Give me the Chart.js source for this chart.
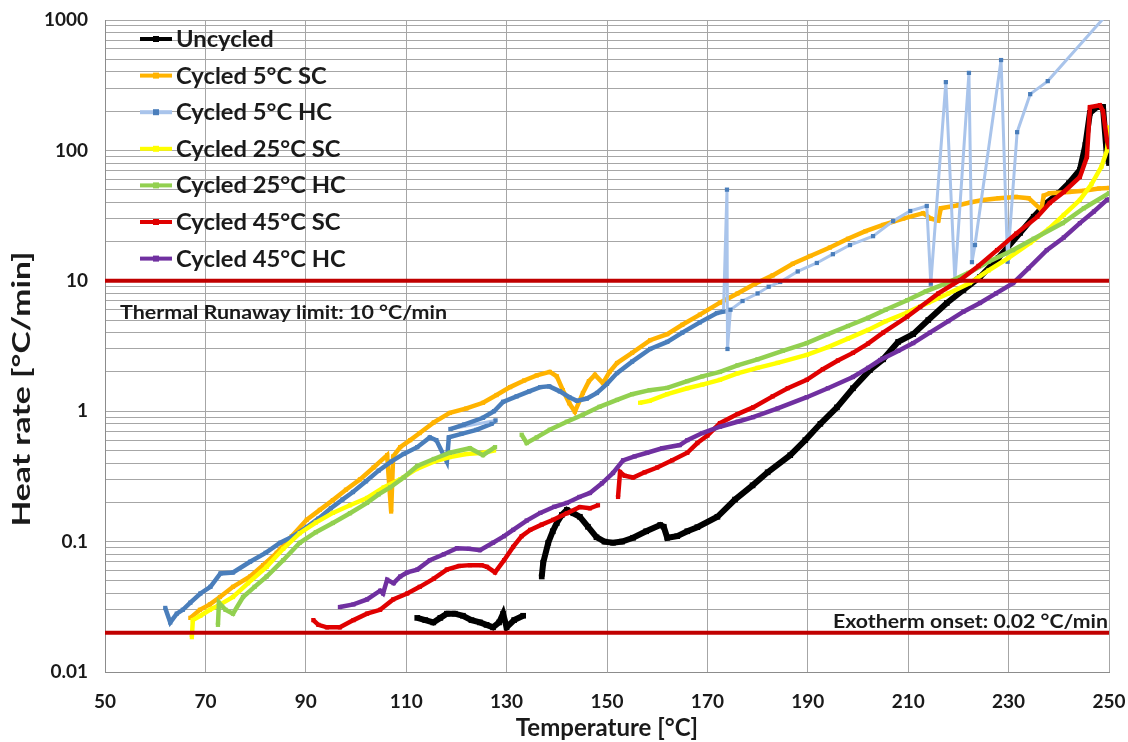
<!DOCTYPE html>
<html>
<head>
<meta charset="utf-8">
<title>Heat rate vs temperature</title>
<script src="https://cdn.jsdelivr.net/npm/chart.js@4.4.1/dist/chart.umd.min.js"></script>
<style>
  html, body { margin: 0; padding: 0; background: #fff; overflow: hidden; }
  #wrap { width: 1128px; height: 742px; position: relative; }
</style>
</head>
<body>
<div id="wrap"><canvas id="arcChart"></canvas></div>
<script>
// Values: [temperature °C, heat rate °C/min]
// a null rate marks a break in the trace
const uncycled = [
  [112.2, 0.026], [113.8, 0.025], [115.4, 0.024], [116.8, 0.026], [118.1, 0.028], [119.7, 0.028],
  [121.3, 0.027], [123, 0.025], [124.7, 0.024], [126, 0.023], [127.3, 0.022], [128.5, 0.024],
  [129.3, 0.028], [130, 0.022], [131.5, 0.025], [133.3, 0.027],
  [135, null],
  [137, 0.054], [137.3, 0.069], [138.3, 0.098], [139.2, 0.12], [140, 0.139], [141, 0.16], [142, 0.175],
  [143.3, 0.165], [144.6, 0.155], [146.2, 0.13], [147.9, 0.108], [149.5, 0.1], [151.2, 0.098],
  [153, 0.1], [155.2, 0.107], [157.8, 0.12], [160.6, 0.134], [161.3, 0.13], [162, 0.107], [164, 0.11],
  [166, 0.12], [168, 0.129], [172, 0.155], [175.5, 0.21], [179, 0.27], [182, 0.34], [186.5, 0.46],
  [189.5, 0.6], [192.5, 0.8], [195.8, 1.07], [199, 1.5], [202.4, 2.07], [205, 2.5], [208, 3.4],
  [211, 3.9], [214, 5.0], [217.7, 6.76], [221, 8.5], [224.3, 10.7], [228, 15], [232.3, 23.3],
  [235, 31], [237.6, 39.5], [240, 47], [242, 56], [244.2, 70.8], [245.3, 110], [246.2, 194],
  [247.6, 215], [248.8, 215], [249.6, 89], [250, 80]
];

const cycled5SC = [
  [67, 0.026], [68.9, 0.030], [70.9, 0.033], [72.9, 0.0376], [75.5, 0.045], [78.9, 0.054], [81.5, 0.066],
  [84.2, 0.082], [87.2, 0.11], [90.2, 0.147], [92.8, 0.175], [95.4, 0.208], [98, 0.25], [100.8, 0.30],
  [103.5, 0.37], [106.2, 0.46], [107, 0.17], [107.4, 0.45], [108.8, 0.53], [110.8, 0.6], [112.7, 0.68],
  [115.5, 0.82], [118.7, 0.97], [122, 1.05], [125.3, 1.16], [128, 1.33], [130.7, 1.53], [133.5, 1.72],
  [136, 1.88], [138.6, 2.0], [140, 1.85], [141.2, 1.45], [142.5, 1.15], [143.6, 0.99], [145.2, 1.38],
  [146.4, 1.7], [147.6, 1.9], [149.2, 1.64], [150.5, 2.0], [152, 2.34], [155, 2.8], [158.6, 3.5],
  [162, 3.9], [165, 4.6], [168.5, 5.5], [172.5, 6.8], [176, 8.0], [179.5, 9.5], [183, 11], [187, 13.5],
  [190.5, 15.5], [194.4, 18], [198, 21], [201.5, 24], [205, 26.8], [209, 30], [213, 33], [214.5, 30],
  [216, 29], [216.5, 36], [220, 38], [222.5, 40], [224.9, 41.6], [228, 43], [231.5, 44], [234, 43],
  [236.5, 35], [237, 45], [238.2, 47], [242, 48], [245, 49], [248, 51], [250, 51.5]
];

const cycled5HC = [
  [62, 0.031], [63, 0.024], [64.3, 0.028], [65.5, 0.030], [67, 0.034], [69, 0.040], [71, 0.045],
  [73, 0.057], [75.5, 0.058], [78.9, 0.070], [82, 0.082], [84.9, 0.098], [87.5, 0.11], [90.2, 0.129],
  [92.5, 0.15], [95, 0.18], [97.3, 0.21], [99.4, 0.24], [102, 0.29], [104.5, 0.35], [107, 0.41],
  [109.5, 0.47], [112.2, 0.53], [114.7, 0.63], [116, 0.6], [118.1, 0.41], [118.5, 0.63], [121, 0.67],
  [124, 0.72], [127, 0.8], [127.8, 0.85], [118.8, 0.73], [121.5, 0.79], [125.3, 0.89], [127.5, 1.0],
  [129.3, 1.18], [132, 1.3], [134.5, 1.42], [136.7, 1.53], [138.5, 1.55], [140.6, 1.42], [142.5, 1.28],
  [144, 1.2], [146, 1.25], [148, 1.38], [150, 1.62], [152, 1.96], [155, 2.4], [158.6, 3.0], [162, 3.4],
  [165, 4.0], [168.5, 4.8], [171.9, 5.66], [173.2, 5.8], [173.9, 50], [174.0, 3.0], [174.6, 6.0],
  [177, 7.0], [180, 8.0], [182.2, 9.0], [184.5, 9.8], [188, 11.8], [191.8, 13.7], [195, 16],
  [198.4, 18.8], [203, 22], [207, 28.7], [210.4, 34.3], [213.7, 37.5], [214.5, 9.5], [217.5, 334],
  [219.3, 10], [222.1, 393], [222.7, 13.9], [223.3, 18.8], [228.5, 493], [229.8, 14], [231.7, 138],
  [234.3, 270], [237.8, 340], [250, 1150]
];

const cycled25SC = [
  [67.3, 0.0185], [67.5, 0.025], [69, 0.027], [70.9, 0.030], [73, 0.033], [75.5, 0.0376], [78.5, 0.048],
  [82.2, 0.064], [85.5, 0.088], [88.8, 0.116], [92, 0.14], [95.4, 0.166], [98.8, 0.19], [102.2, 0.216],
  [105.5, 0.26], [108.8, 0.30], [112, 0.36], [115.5, 0.41], [118.7, 0.445], [122, 0.47], [125.3, 0.48],
  [127.5, 0.5],
  [140, null],
  [156.6, 1.16], [158.5, 1.2], [162, 1.35], [166, 1.5], [169, 1.6], [172.5, 1.74], [176, 1.95],
  [180, 2.15], [184, 2.35], [189.8, 2.7], [194, 3.1], [198, 3.6], [202, 4.2], [205.5, 4.9], [209.8, 5.7],
  [214, 6.8], [218, 8.0], [222.3, 9.6], [226, 12], [230, 15], [234.3, 19.5], [238, 25], [241, 32],
  [244.2, 41.7], [246.5, 55], [248.5, 75], [249.6, 100], [250, 150]
];

const cycled25HC = [
  [72.5, 0.023], [72.7, 0.034], [74, 0.03], [75.5, 0.028], [77.5, 0.0376], [79.8, 0.045], [82.2, 0.054],
  [85.5, 0.072], [88.8, 0.098], [92, 0.118], [95.4, 0.139], [98.8, 0.165], [102.2, 0.198], [104.5, 0.23],
  [106.8, 0.26], [109.5, 0.31], [112.2, 0.38], [115.5, 0.43], [118.7, 0.48], [122.7, 0.52], [125.3, 0.46],
  [127.7, 0.53],
  [130, null],
  [133, 0.66], [134, 0.57], [136, 0.63], [138.6, 0.72], [142, 0.83], [145.2, 0.94], [148.5, 1.08],
  [152, 1.22], [155, 1.35], [158.5, 1.45], [162, 1.51], [166, 1.7], [169, 1.85], [172.5, 2.0], [176, 2.25],
  [180, 2.5], [185, 2.9], [189.8, 3.33], [194, 3.9], [198, 4.5], [202, 5.2], [205.5, 6.0], [209.8, 7.1],
  [213.5, 8.3], [217.7, 9.6], [222, 11.5], [226, 14], [230.9, 17.2], [235, 21], [240.8, 27.7], [245, 36],
  [250, 47]
];

const cycled45SC = [
  [91.5, 0.025], [92.5, 0.023], [94.2, 0.022], [96.8, 0.022], [99.5, 0.025], [102.2, 0.028], [104.8, 0.030],
  [107.4, 0.036], [110.2, 0.040], [112.7, 0.045], [115.5, 0.052], [118.1, 0.061], [120.5, 0.065],
  [122.7, 0.066], [125, 0.066], [126.1, 0.064], [127.7, 0.058], [129.5, 0.072], [131.3, 0.091], [133, 0.11],
  [134.7, 0.123], [137, 0.135], [139.3, 0.147], [142, 0.165], [144.6, 0.184], [146.6, 0.18], [148.2, 0.19],
  [150, null],
  [152.2, 0.22], [152.6, 0.342], [153.5, 0.32], [155.2, 0.31], [157.5, 0.34], [160, 0.37], [163, 0.42],
  [166, 0.48], [168, 0.57], [170, 0.65], [172.5, 0.81], [176, 0.95], [179.1, 1.07], [183, 1.3], [186, 1.5],
  [189.8, 1.74], [193, 2.1], [196, 2.45], [199, 2.8], [202, 3.3], [205, 4.0], [209.8, 5.3], [212.4, 6.3],
  [216, 8], [220.3, 10.1], [224, 13], [227.7, 17.2], [231.5, 23], [235.7, 30.9], [238.2, 39.5], [241, 48],
  [244.2, 62.5], [245.6, 89], [246.2, 215], [248.2, 222], [248.8, 200], [249.6, 120], [250, 106]
];

const cycled45HC = [
  [96.8, 0.0315], [99.5, 0.033], [102.2, 0.036], [104.8, 0.042], [105.4, 0.040], [106.2, 0.051],
  [107.5, 0.048], [108.8, 0.054], [110.2, 0.058], [112.2, 0.061], [114.7, 0.072], [117.5, 0.08],
  [120.1, 0.089], [122.5, 0.088], [124.7, 0.086], [127.3, 0.098], [129.5, 0.11], [131.3, 0.123],
  [134, 0.145], [136.7, 0.166], [139.5, 0.185], [142, 0.198], [144.5, 0.22], [146.6, 0.236], [149, 0.28],
  [151.2, 0.336], [153.2, 0.42], [155.5, 0.45], [158, 0.48], [161, 0.52], [164.5, 0.55], [166, 0.60],
  [169, 0.68], [172.5, 0.76], [176, 0.83], [179.1, 0.90], [184, 1.05], [189.8, 1.28], [194, 1.5],
  [199, 1.83], [202, 2.15], [204.4, 2.47], [208, 2.9], [211, 3.33], [214.3, 4.0], [218, 4.9], [221, 5.8],
  [224.3, 6.76], [227.5, 8.0], [230.9, 9.6], [234, 12.5], [237.6, 17.2], [241, 21.5], [244.2, 27.7],
  [247, 34], [249.6, 41.7], [250, 42]
];

const seriesNames = ['Uncycled', 'Cycled 5°C SC', 'Cycled 5°C HC', 'Cycled 25°C SC',
  'Cycled 25°C HC', 'Cycled 45°C SC', 'Cycled 45°C HC'];
const series = [uncycled, cycled5SC, cycled5HC, cycled25SC, cycled25HC, cycled45SC, cycled45HC];
const lineColors = ['#000000', '#ffb300', '#a9c4eb', '#ffff00', '#92d050', '#e00000', '#7030a0'];
const markerColors = ['#000000', '#ffb300', '#4a7ebb', '#ffff00', '#92d050', '#e00000', '#7030a0'];

const yDecades = [0.01, 0.1, 1, 10, 100, 1000];
const runawayLimit = 10;
const exothermOnset = 0.02;
const runawayLabel = 'Thermal Runaway limit: 10 °C/min';
const onsetLabel = 'Exotherm onset: 0.02 °C/min';
const xTitle = 'Temperature [°C]';
const yTitle = 'Heat rate [°C/min]';

const FONT = 'Lato, "Open Sans", sans-serif';
const TEXT = '#1a1a1a';

// log grid: 1..9 of every decade
const yGridValues = [];
yDecades.slice(0, -1).forEach(d => {
  for (let m = 1; m <= 9; m++) yGridValues.push(m === 1 ? d : m * d);
});
yGridValues.push(1000);

const toXY = arr => arr.map(p => ({ x: p[0], y: p[1] }));

// where the 5 °C HC markers sit close together they hide the pale line
const denseMarkers = ctx => {
  const dx = ctx.p1.parsed.x - ctx.p0.parsed.x;
  return dx > 0 && dx < 4 && ctx.p1.parsed.x < 173.5 ? markerColors[2] : undefined;
};

const datasets = series.map((s, i) => ({
  label: seriesNames[i],
  data: toXY(s),
  showLine: true,
  spanGaps: false,
  borderColor: lineColors[i],
  backgroundColor: markerColors[i],
  pointBackgroundColor: markerColors[i],
  pointBorderColor: markerColors[i],
  pointStyle: 'rect',
  pointRadius: i === 0 ? 4 : 3,
  pointBorderWidth: 0,
  borderWidth: i === 0 ? 6 : (i === 2 ? 3 : 4.5),
  segment: i === 2 ? { borderColor: denseMarkers, borderWidth: c => denseMarkers(c) ? 4.5 : undefined } : undefined,
  order: series.length - i + 1
}));

// horizontal limit lines
[runawayLimit, exothermOnset].forEach(v => {
  datasets.push({
    label: '',
    data: [{ x: 50, y: v }, { x: 250, y: v }],
    showLine: true,
    borderColor: '#c00000',
    borderWidth: 4,
    pointRadius: 0,
    order: 0
  });
});

// draw text stretched or squeezed to a given width
function fitText(ctx, text, x, y, width, align) {
  const w = ctx.measureText(text).width;
  const k = width / w;
  ctx.save();
  const x0 = align === 'right' ? x - width : (align === 'center' ? x - width / 2 : x);
  ctx.translate(x0, y);
  ctx.scale(k, 1);
  ctx.textAlign = 'left';
  ctx.fillText(text, 0, 0);
  ctx.restore();
}

// legend, limit labels and rotated y title drawn straight on the canvas
const overlay = {
  id: 'overlay',
  afterDatasetsDraw(chart) {
    const { ctx, chartArea, scales } = chart;
    ctx.save();
    ctx.fillStyle = TEXT;
    ctx.textBaseline = 'middle';

    ctx.font = 'bold 19px ' + FONT;
    fitText(ctx, runawayLabel, chartArea.left + 15, scales.y.getPixelForValue(runawayLimit) + 32, 327, 'left');
    fitText(ctx, onsetLabel, chartArea.right - 1, scales.y.getPixelForValue(exothermOnset) - 11, 275, 'right');

    ctx.font = 'bold 22px ' + FONT;
    seriesNames.forEach((name, i) => {
      const y = chartArea.top + 19 + i * 36.6;
      const x0 = chartArea.left + 35, x1 = chartArea.left + 67;
      ctx.strokeStyle = lineColors[i];
      ctx.lineWidth = 4;
      ctx.beginPath();
      ctx.moveTo(x0, y);
      ctx.lineTo(x1, y);
      ctx.stroke();
      ctx.fillStyle = markerColors[i];
      ctx.fillRect((x0 + x1) / 2 - 3, y - 3, 6, 6);
      ctx.fillStyle = TEXT;
      const w = ctx.measureText(name).width * 1.08;
      fitText(ctx, name, x1 + 4, y + 1, w, 'left');
    });

    ctx.translate(22, 389);
    ctx.rotate(-Math.PI / 2);
    ctx.font = 'bold 25px ' + FONT;
    fitText(ctx, yTitle, 0, 0, 275, 'center');
    ctx.restore();
  }
};

new Chart(document.getElementById('arcChart'), {
  type: 'scatter',
  data: { datasets },
  plugins: [overlay],
  options: {
    responsive: true,
    maintainAspectRatio: false,
    animation: false,
    layout: { padding: { left: 0, right: 19, top: 20, bottom: 0 } },
    plugins: {
      legend: { display: false },
      tooltip: { enabled: false }
    },
    scales: {
      x: {
        type: 'linear',
        min: 50,
        max: 250,
        afterFit: scale => {
          scale.height = 70;
          scale.paddingLeft = 0; scale.paddingRight = 0;
        },
        ticks: { stepSize: 20, padding: 18, color: TEXT, font: { family: FONT, size: 19, weight: 'bold' } },
        grid: { color: '#a6a6a6', drawTicks: false },
        border: { color: '#8c8c8c' },
        title: {
          display: true,
          text: xTitle,
          color: TEXT,
          padding: { top: 0, bottom: -1 },
          font: { family: FONT, size: 24, weight: 'bold' }
        }
      },
      y: {
        type: 'logarithmic',
        min: 0.01,
        max: 1000,
        afterBuildTicks: scale => { scale.ticks = yGridValues.map(v => ({ value: v })); },
        afterFit: scale => {
          scale.width = 105;
          scale.paddingTop = 0; scale.paddingBottom = 0;
        },
        ticks: {
          autoSkip: false,
          padding: 17,
          color: TEXT,
          font: { family: FONT, size: 19, weight: 'bold' },
          callback: v => yDecades.includes(v) ? String(v) : ''
        },
        grid: { color: '#a6a6a6', drawTicks: false },
        border: { color: '#8c8c8c' }
      }
    }
  }
});
</script>
</body>
</html>
